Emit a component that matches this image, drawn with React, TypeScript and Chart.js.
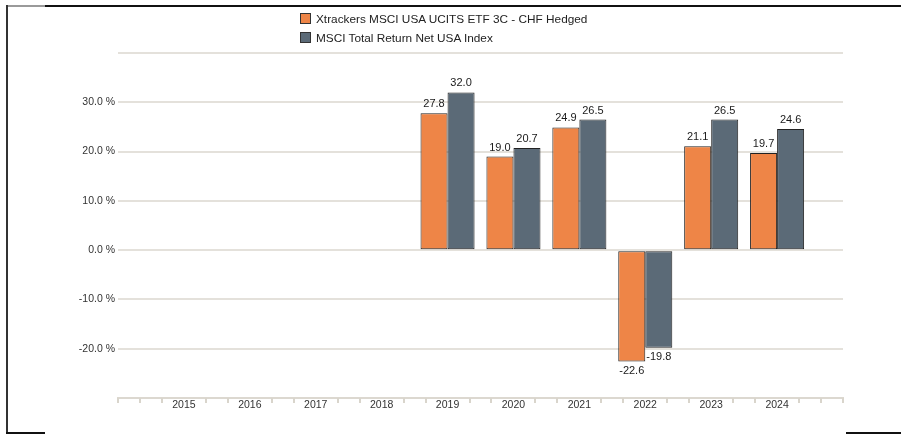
import React, { useEffect, useRef } from "react";
import { Chart, registerables } from "chart.js";

Chart.register(...registerables);

const categories = ["", "2015", "2016", "2017", "2018", "2019", "2020", "2021", "2022", "2023", "2024", ""];
const fundValues = [null, null, null, null, null, 27.8, 19.0, 24.9, -22.6, 21.1, 19.7, null];
const indexValues = [null, null, null, null, null, 32.0, 20.7, 26.5, -19.8, 26.5, 24.6, null];
const seriesNames = ["Xtrackers MSCI USA UCITS ETF 3C - CHF Hedged", "MSCI Total Return Net USA Index"];
const seriesColors = ["#ee8547", "#5b6a77"];
const yMin = -30;
const yMax = 40;
const yStep = 10;
const hiddenYLabels = [40, -30];

const FONT = "'Liberation Sans', Arial, sans-serif";

const valueLabelPlugin = {
  id: "valueLabels",
  afterDatasetsDraw(chart: any) {
    const ctx = chart.ctx;
    ctx.save();
    ctx.font = `11px ${FONT}`;
    ctx.fillStyle = "#1a1a1a";
    ctx.textAlign = "center";
    ctx.textBaseline = "middle";
    chart.data.datasets.forEach((ds: any, di: number) => {
      const meta = chart.getDatasetMeta(di);
      meta.data.forEach((el: any, i: number) => {
        const v = ds.data[i];
        if (v === null || v === undefined) return;
        const y = v >= 0 ? el.y - 9 : el.y + 9;
        ctx.fillText(v.toFixed(1), el.x, y);
      });
    });
    ctx.restore();
  },
};

const axisTicksPlugin = {
  id: "axisTicks",
  afterDraw(chart: any) {
    const x = chart.scales.x;
    const ctx = chart.ctx;
    const n = categories.length - 1;
    const sub = 3;
    const step = (x.right - x.left) / (n * sub);
    ctx.save();
    ctx.strokeStyle = "#d9d5cc";
    ctx.lineWidth = 2;
    for (let k = 0; k <= n * sub; k++) {
      if (k % sub === 0 && categories[k / sub] !== "") continue;
      const px = Math.round(x.left + k * step);
      ctx.beginPath();
      ctx.moveTo(px, x.top);
      ctx.lineTo(px, x.top + 5);
      ctx.stroke();
    }
    ctx.restore();
  },
};

function ChartCanvas() {
  const ref = useRef<HTMLCanvasElement>(null);
  useEffect(() => {
    if (!ref.current) return;
    const chart = new Chart(ref.current, {
      type: "bar",
      data: {
        labels: categories,
        datasets: [
          {
            label: seriesNames[0],
            data: fundValues,
            backgroundColor: seriesColors[0],
            borderColor: "#222",
            borderWidth: 1,
            borderSkipped: false,
          },
          {
            label: seriesNames[1],
            data: indexValues,
            backgroundColor: seriesColors[1],
            borderColor: "#222",
            borderWidth: 1,
            borderSkipped: false,
          },
        ],
      },
      options: {
        animation: false,
        responsive: false,
        maintainAspectRatio: false,
        layout: { padding: { top: 53, right: 58, left: 0, bottom: 0 } },
        plugins: {
          legend: { display: false },
          tooltip: { enabled: false },
          title: { display: false },
        },
        datasets: { bar: { categoryPercentage: 0.82, barPercentage: 1 } },
        scales: {
          x: {
            type: "category",
            offset: false,
            grid: { display: false, drawTicks: false },
            border: { display: true, color: "#dcd8d0", width: 2 },
            ticks: {
              color: "#333",
              font: { family: FONT, size: 10.5 },
              padding: 1,
              maxRotation: 0,
              autoSkip: false,
            },
            afterFit: (s: any) => {
              s.height = 37;
            },
          },
          y: {
            min: yMin,
            max: yMax,
            grid: { color: "#e4e1db", lineWidth: 2, drawTicks: false },
            border: { display: false },
            ticks: {
              stepSize: yStep,
              color: "#333",
              font: { family: FONT, size: 10.5 },
              padding: 3,
              callback: (v: any) => (hiddenYLabels.includes(Number(v)) ? "" : `${Number(v).toFixed(1)} %`),
            },
            afterFit: (s: any) => {
              s.width = 118;
            },
          },
        },
      },
      plugins: [valueLabelPlugin, axisTicksPlugin],
    });
    return () => chart.destroy();
  }, []);
  return <canvas ref={ref} width={901} height={435} style={{ position: "absolute", left: 0, top: 0 }} />;
}

export default function App() {
  return (
    <div style={{ position: "fixed", left: 0, top: 0, width: 901, height: 435, background: "#fff", overflow: "hidden" }}>
      <ChartCanvas />
      {/* page frame fragments */}
      <div style={{ position: "absolute", left: 7, top: 5, width: 38, height: 2, background: "#9a9a9a" }} />
      <div style={{ position: "absolute", left: 45, top: 5, width: 856, height: 2, background: "#111" }} />
      <div style={{ position: "absolute", left: 6, top: 5, width: 2, height: 428, background: "#333" }} />
      <div style={{ position: "absolute", left: 6, top: 432, width: 39, height: 2, background: "#111" }} />
      <div style={{ position: "absolute", left: 846, top: 432, width: 55, height: 2, background: "#111" }} />
      {/* legend */}
      <div style={{ position: "absolute", left: 300, top: 9, fontFamily: FONT, fontSize: 11.8, color: "#222" }}>
        {seriesNames.map((name, i) => (
          <div key={name} style={{ display: "flex", alignItems: "center", height: 19 }}>
            <span
              style={{
                display: "inline-block",
                width: 9,
                height: 9,
                background: seriesColors[i],
                border: "1px solid #333",
                marginRight: 5,
              }}
            />
            <span>{name}</span>
          </div>
        ))}
      </div>
    </div>
  );
}
